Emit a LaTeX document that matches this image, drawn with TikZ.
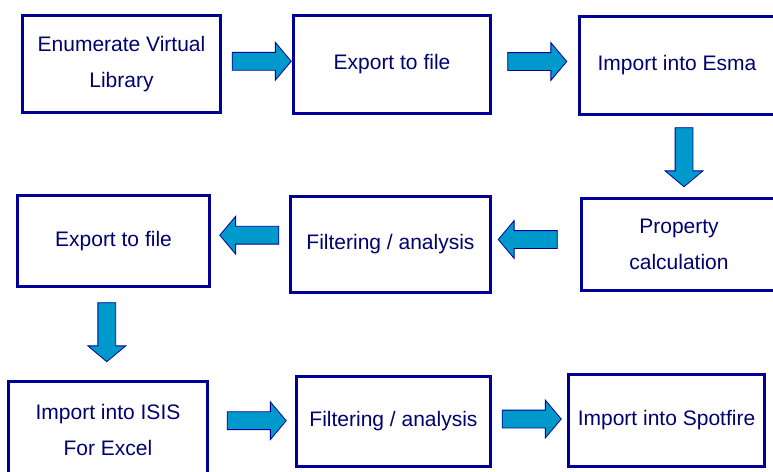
\documentclass[tikz,border=0pt]{standalone}
\usepackage{fontspec}
\setmainfont{Liberation Sans}
\usetikzlibrary{shapes.arrows}
\definecolor{boxblue}{RGB}{0,0,153}
\definecolor{txtblue}{RGB}{0,0,112}
\definecolor{arrfill}{RGB}{0,153,204}

\begin{document}
\begin{tikzpicture}[x=1pt, y=-1pt, every node/.style={rectangle, draw=boxblue, line width=3pt, text=txtblue, align=center, font=\fontsize{21}{36}\selectfont}]
        \useasboundingbox (0,0) rectangle (773,471);
        \tikzset{blk/.style={single arrow, draw=boxblue, fill=arrfill, line width=0.8pt, inner sep=8.5pt, minimum height=59pt, single arrow head extend=10pt, single arrow tip angle=100}}
        \tikzset{toright/.style={blk}, toleft/.style={blk, shape border rotate=180}, todown/.style={blk, shape border rotate=270}}
        % top row
        \node (enum) at (121.5,64) [minimum width=198, minimum height=97] {Enumerate Virtual\\Library};
        \node (exp1) at (392,64.5) [minimum width=197, minimum height=98] {Export to file};
        \node (esma) at (677,65.5) [minimum width=195, minimum height=98] {Import into Esma};
        % middle row
        \node (prop) at (679,244.5) [minimum width=195, minimum height=92] {Property\\calculation};
        \node (filt1) at (390.5,244.5) [minimum width=200, minimum height=96] {Filtering / analysis};
        \node (exp2) at (113.5,241) [minimum width=192, minimum height=91] {Export to file};
        % bottom row
        \node (isis) at (108,430) [minimum width=199, minimum height=97] {Import into ISIS\\For Excel};
        \node (filt2) at (393.5,421.5) [minimum width=194, minimum height=90] {Filtering / analysis};
        \node (spot) at (666.5,420.5) [minimum width=196, minimum height=92] {Import into Spotfire};
        % block arrows
        \path (enum) -- node[toright, xshift=1pt, yshift=3pt] {} (exp1);
        \path (exp1) -- node[toright, xshift=-1.5pt, yshift=3.5pt] {} (esma);
        \path (esma) -- node[todown, xshift=6pt, yshift=3pt] {} (prop);
        \path (prop) -- node[toleft, xshift=-4.5pt, yshift=5pt] {} (filt1);
        \path (filt1) -- node[toleft, xshift=3pt, yshift=7.5pt] {} (exp2);
        \path (exp2) -- node[todown, xshift=-4pt, yshift=5.5pt] {} (isis);
        \path (isis) -- node[toright, xshift=1pt, yshift=5pt] {} (filt2);
        \path (filt2) -- node[toright, xshift=-1.5pt, yshift=2pt] {} (spot);
      \end{tikzpicture}
\end{document}
